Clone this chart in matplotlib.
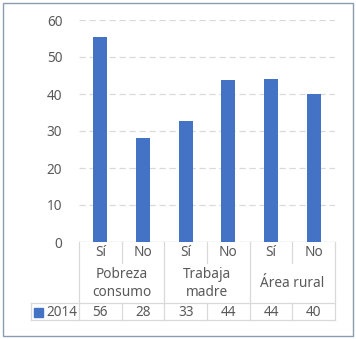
import matplotlib
matplotlib.use("Agg")
import matplotlib.pyplot as plt
from matplotlib.transforms import blended_transform_factory
from matplotlib.patches import Rectangle

# values per category (table shows them rounded)
groups = ["Pobreza\nconsumo", "Trabaja\nmadre", "Área rural"]
answers = ["Sí", "No", "Sí", "No", "Sí", "No"]
values_2014 = [55.5, 28.2, 32.7, 43.8, 44.1, 40.0]
series_name = "2014"
yticks = [0, 10, 20, 30, 40, 50, 60]

bar_color = "#4472C4"
text_color = "#595959"
line_color = "#d9d9d9"
fs = 9.8

plt.rcParams["font.family"] = ["Noto Sans", "DejaVu Sans"]
plt.rcParams["font.size"] = fs

W, H = 356, 339
fig = plt.figure(figsize=(W / 100, H / 100), dpi=100)

# plot area in pixel units, converted to figure fractions
left, right, top, bottom = 79, 335, 20, 242
ax = fig.add_axes([left / W, 1 - bottom / H, (right - left) / W, (bottom - top) / H])

x = list(range(len(values_2014)))
ax.bar(x, values_2014, width=0.33, color=bar_color, zorder=3)
ax.set_xlim(-0.5, len(values_2014) - 0.5)
ax.set_ylim(0, 60)
ax.set_yticks(yticks)
ax.set_xticks([])
ax.tick_params(axis="y", length=0, pad=12, labelcolor=text_color, labelsize=fs)
ax.yaxis.grid(True, color=line_color, linestyle=(0, (5, 3)), linewidth=0.9)
for s in ax.spines.values():
    s.set_visible(False)
ax.axhline(0, color=line_color, linewidth=0.9, zorder=2)

# data table below the axes: x in data units, y in axes fraction
tr = blended_transform_factory(ax.transData, ax.transAxes)
ppx = bottom - top  # axes height in pixels


def yf(py):
    return (bottom - py) / ppx


row1 = yf(263)
row2 = yf(302.5)
row3 = yf(320)
legend_left = -0.5 - (left - 31) / ((right - left) / len(values_2014))

kw = dict(transform=tr, color=line_color, linewidth=0.9, clip_on=False)
# vertical separators
for i in range(len(values_2014) + 1):
    xb = i - 0.5
    if i % 2 == 0:
        ax.plot([xb, xb], [0, row3], **kw)
    else:
        ax.plot([xb, xb], [0, row1], **kw)
        ax.plot([xb, xb], [row2, row3], **kw)
ax.plot([legend_left, legend_left], [row2, row3], **kw)
ax.plot([legend_left, 5.5], [row2, row2], **kw)
ax.plot([legend_left, 5.5], [row3, row3], **kw)

txt = dict(transform=tr, ha="center", va="center", color=text_color, fontsize=fs, clip_on=False)
for i, a in enumerate(answers):
    ax.text(i, yf(253), a, **txt)
for g, name in enumerate(groups):
    ax.text(2 * g + 0.5, yf(283.5), name, linespacing=1.2, **txt)
for i, v in enumerate(values_2014):
    ax.text(i, yf(312), f"{v:.0f}", **txt)

# legend key in the table row
key_x = legend_left + 0.07
ax.add_patch(Rectangle((key_x, yf(316.5)), 0.21, (316.5 - 307.5) / ppx, transform=tr,
                       color=bar_color, clip_on=False))
ax.text(key_x + 0.3, yf(312), series_name, transform=tr, ha="left", va="center",
        color=text_color, fontsize=fs, clip_on=False)

# chart border
fig.patches.append(Rectangle((3 / W, 3 / H), (W - 6) / W, (H - 6) / H, transform=fig.transFigure,
                             fill=False, edgecolor="#8c9cb0", linewidth=1))

fig.savefig("out.png", dpi=100)
